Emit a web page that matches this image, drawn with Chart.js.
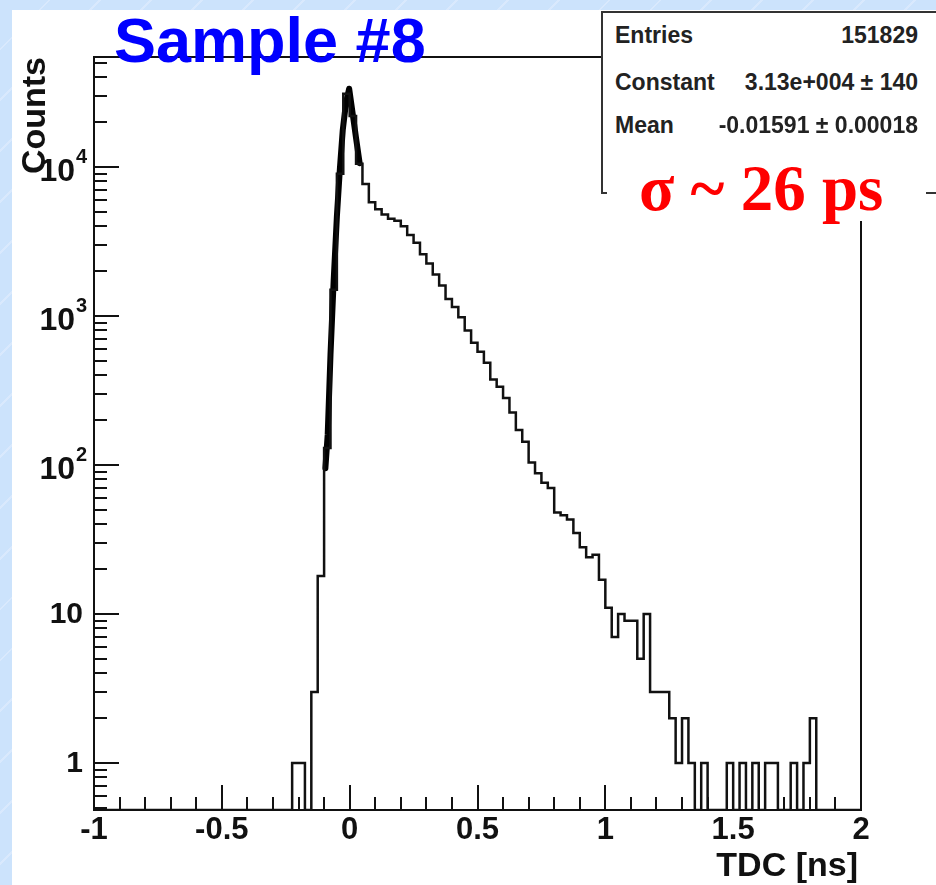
<!DOCTYPE html>
<html>
<head>
<meta charset="utf-8">
<title>Sample #8 - TDC</title>
<script src="https://cdn.jsdelivr.net/npm/chart.js@4.4.1/dist/chart.umd.min.js"></script>
<style>
    body { margin: 0; }
    #wrap {
        position: relative; width: 936px; height: 885px; overflow: hidden;
        background: repeating-linear-gradient(135deg, #cce3fc 0px, #cce3fc 34px, #d9e9fd 34px, #d9e9fd 36px);
    }
    #painel { position: absolute; left: 12px; top: 10px; right: 0; bottom: 0; background: #fff; }
    #graficoTDC { position: absolute; left: 0; top: 0; }
    .txt { position: absolute; white-space: nowrap; line-height: 1; }
    #titulo { left: 114px; top: 4px; font: bold 63px "Liberation Sans", Arial, sans-serif; color: #0000ff; }
    #stats {
        position: absolute; left: 601px; top: 11px; width: 345px; height: 183px;
        box-sizing: border-box; background: #fff; border: 2px solid #333; border-right: none;
    }
    .st { font: bold 23px "Liberation Sans", Arial, sans-serif; color: #222; }
    #caixaSigma { position: absolute; left: 607px; top: 150px; width: 319px; height: 71px; background: #fff; }
    #sigma { left: 639px; top: 151px; font: bold 65px "Liberation Serif", "Times New Roman", serif; color: #ff0000; }
</style>
</head>
<body>
<div id="wrap">
    <div id="painel"></div>
    <canvas id="graficoTDC" width="936" height="885"></canvas>
    <div class="txt" id="titulo">Sample #8</div>
    <div id="stats"></div>
    <div class="txt st" style="left:615px; top:22px;">Entries</div>
    <div class="txt st" style="right:18px; top:22px;">151829</div>
    <div class="txt st" style="left:615px; top:69px;">Constant</div>
    <div class="txt st" style="right:18px; top:69px;">3.13e+004 ± 140</div>
    <div class="txt st" style="left:615px; top:112px;">Mean</div>
    <div class="txt st" style="right:18px; top:112px;">-0.01591 ± 0.00018</div>
    <div id="caixaSigma"></div>
    <div class="txt" id="sigma">σ ~ 26 ps</div>
</div>

<script>
// Dados do histograma (120 bins de 0.025 ns entre -1 e 2)
const X_MIN = -1;
const X_MAX = 2;
const LARGURA_BIN = 0.025;
const Y_MIN = 0.4837;
const Y_MAX = 54700;

const contagens = [
    0, 0, 0, 0, 0, 0, 0, 0, 0, 0,
    0, 0, 0, 0, 0, 0, 0, 0, 0, 0,
    0, 0, 0, 0, 0, 0, 0, 0, 0, 0,
    0, 1, 1, 0, 3, 18, 130, 1500, 9000, 31000,
    22000, 10500, 7700, 5800, 5200, 4800, 4500, 4350, 4000, 3500,
    3100, 2600, 2250, 1900, 1600, 1300, 1150, 980, 800, 660,
    575, 485, 375, 335, 282, 225, 172, 143, 104, 88,
    76, 70, 48, 46, 43, 35, 28, 24, 25, 17,
    11, 7, 10, 9, 9, 5, 10, 3, 3, 3,
    2, 1, 2, 1, 0, 1, 0, 0, 0, 1,
    0, 1, 0, 1, 0, 1, 1, 0, 0, 1,
    0, 1, 2, 0, 0, 0, 0, 0, 0, 0
];

// Curva do ajuste gaussiano
const ajusteX = [-0.095, -0.086, -0.075, -0.0625, -0.050, -0.038, -0.027, -0.0145, -0.002, 0.010, 0.025, 0.039];
const ajusteY = [95, 159, 550, 1740, 4650, 9900, 17700, 26800, 33500, 24000, 15600, 10600];

// Rótulos dos eixos
const xTicksValores = [-1, -0.5, 0, 0.5, 1, 1.5, 2];
const xTicksRotulos = ['-1', '-0.5', '0', '0.5', '1', '1.5', '2'];
const yTicksValores = [1, 10, 100, 1000, 10000];
const yTicksBase = ['1', '10', '10', '10', '10'];
const yTicksExpoente = ['', '', '2', '3', '4'];

const FONTE = '"Liberation Sans", Arial, sans-serif';

// Plugin que desenha moldura, ticks e rótulos no estilo ROOT
const eixosRoot = {
    id: 'eixosRoot',
    afterDatasetsDraw(chart) {
        const { ctx, chartArea: a, scales: { x, y } } = chart;
        ctx.save();
        ctx.strokeStyle = '#111';
        ctx.lineWidth = 2;
        ctx.strokeRect(a.left, a.top, a.right - a.left, a.bottom - a.top);

        ctx.beginPath();
        for (let i = 0; i <= 30; i++) {
            const px = Math.round(x.getPixelForValue(X_MIN + i * 0.1));
            const len = i % 5 === 0 ? 25 : 13;
            ctx.moveTo(px, a.bottom);
            ctx.lineTo(px, a.bottom - len);
        }
        for (let e = -1; e <= 4; e++) {
            for (let m = 1; m <= 9; m++) {
                const v = m * Math.pow(10, e);
                if (v < Y_MIN || v > Y_MAX) continue;
                const py = Math.round(y.getPixelForValue(v));
                ctx.moveTo(a.left, py);
                ctx.lineTo(a.left + (m === 1 ? 25 : 13), py);
            }
        }
        ctx.stroke();

        ctx.fillStyle = '#111';
        ctx.textBaseline = 'middle';
        ctx.textAlign = 'center';
        ctx.font = 'bold 31px ' + FONTE;
        xTicksValores.forEach((v, i) => {
            ctx.fillText(xTicksRotulos[i], x.getPixelForValue(v), a.bottom + 20);
        });

        yTicksValores.forEach((v, i) => {
            const py = y.getPixelForValue(v);
            ctx.textAlign = 'right';
            if (yTicksExpoente[i] === '') {
                ctx.font = 'bold 30px ' + FONTE;
                ctx.fillText(yTicksBase[i], a.left - 11, py + 1);
            } else {
                ctx.font = 'bold 32px ' + FONTE;
                ctx.fillText(yTicksBase[i], a.left - 19, py + 5);
                ctx.font = 'bold 20px ' + FONTE;
                ctx.textAlign = 'left';
                ctx.fillText(yTicksExpoente[i], a.left - 18, py - 9);
            }
        });

        // títulos dos eixos
        ctx.font = 'bold 34px ' + FONTE;
        ctx.textBaseline = 'alphabetic';
        ctx.textAlign = 'right';
        ctx.fillText('TDC [ns]', 858, 876);

        ctx.translate(45, a.top);
        ctx.rotate(-Math.PI / 2);
        ctx.fillText('Counts', 0, 0);
        ctx.restore();
    }
};

function criarGrafico() {
    const ctx = document.getElementById('graficoTDC').getContext('2d');

    const pontosHist = contagens.map((c, k) => ({ x: X_MIN + k * LARGURA_BIN, y: c > 0 ? c : Y_MIN }));
    pontosHist.push({ x: X_MAX, y: Y_MIN });

    const pontosAjuste = ajusteX.map((v, i) => ({ x: v, y: ajusteY[i] }));

    new Chart(ctx, {
        type: 'line',
        data: {
            datasets: [
                {
                    label: 'TDC',
                    data: pontosHist,
                    stepped: true,
                    borderColor: '#111',
                    borderWidth: 2.5,
                    pointRadius: 0,
                    fill: false
                },
                {
                    label: 'Ajuste',
                    data: pontosAjuste,
                    borderColor: '#000',
                    borderWidth: 6,
                    borderJoinStyle: 'round',
                    borderCapStyle: 'round',
                    pointRadius: 0,
                    fill: false
                }
            ]
        },
        options: {
            responsive: false,
            animation: false,
            devicePixelRatio: 1,
            layout: { padding: { left: 94, top: 57, right: 75, bottom: 75 } },
            scales: {
                x: { type: 'linear', min: X_MIN, max: X_MAX, display: false },
                y: { type: 'logarithmic', min: Y_MIN, max: Y_MAX, display: false }
            },
            plugins: {
                legend: { display: false },
                tooltip: { enabled: false }
            }
        },
        plugins: [eixosRoot]
    });
}

document.addEventListener('DOMContentLoaded', () => {
    criarGrafico();
});
</script>
</body>
</html>
